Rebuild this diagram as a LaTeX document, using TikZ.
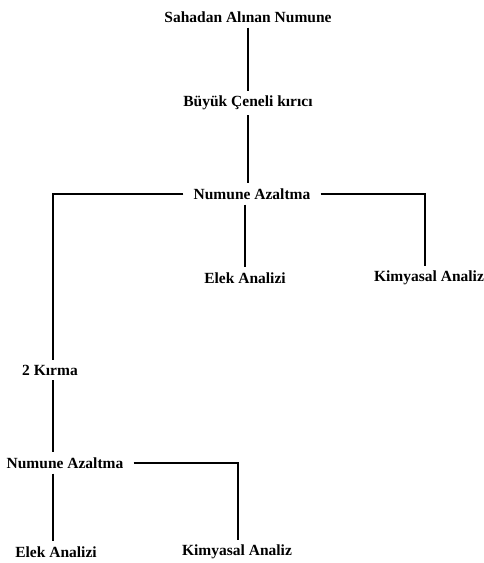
\documentclass[tikz,border=0pt]{standalone}
\usepackage{fontspec}
\setmainfont{Liberation Serif}
\begin{document}
\begin{tikzpicture}[x=1pt,y=-1pt,
  lbl/.style={font=\fontsize{15.5}{17}\selectfont\bfseries, inner xsep=10pt, inner ysep=5pt},
  conn/.style={line width=2pt}]
\useasboundingbox (0,0) rectangle (484,563);
\node[lbl] (s) at (248,17) {Sahadan Alınan Numune};
\node[lbl] (b) at (248,103) {Büyük Çeneli kırıcı};
\node[lbl] (na) at (252,194) {Numune Azaltma};
\node[lbl] (e1) at (245,278) {Elek Analizi};
\node[lbl] (ki1) at (429,278) {Kimyasal Analiz};
\node[lbl] (k2) at (50,370) {2 Kırma};
\node[lbl] (na2) at (65,463) {Numune Azaltma};
\node[lbl] (e2) at (56,552) {Elek Analizi};
\node[lbl] (ki2) at (237,552) {Kimyasal Analiz};
\draw[conn] (s.south) -- (b.north);
\draw[conn] (b.south) -- (b.south |- na.north);
\draw[conn] (na.south -| e1.north) -- (e1.north);
\draw[conn] (na.east) -| ([xshift=-4pt]ki1.north);
\draw[conn] (na.west) -| ([xshift=3pt]k2.north);
\draw[conn] ([xshift=3pt]k2.south) -- ([xshift=3pt]k2.south |- na2.north);
\draw[conn] (na2.east) -| ([xshift=1pt]ki2.north);
\draw[conn] ([xshift=3pt]k2.south |- na2.south) -- ([xshift=3pt]k2.south |- e2.north);
\end{tikzpicture}
\end{document}
